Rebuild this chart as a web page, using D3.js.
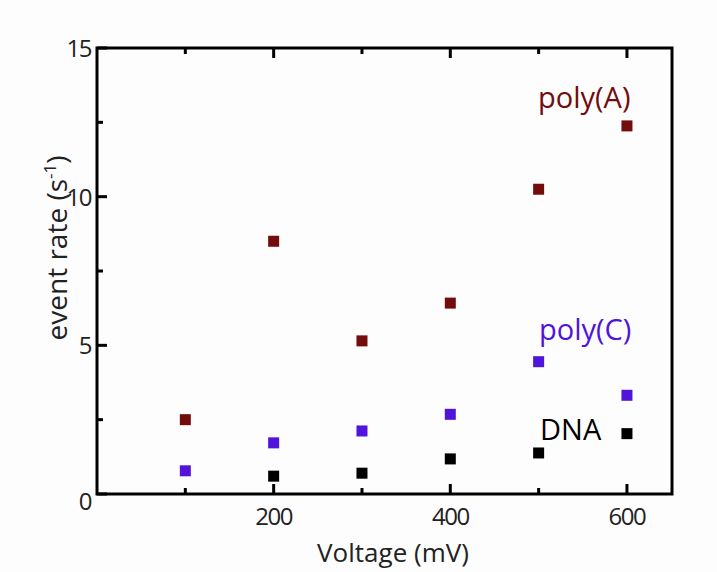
<!DOCTYPE html>
<html>
<head>
<meta charset="utf-8">
<script src="https://cdn.jsdelivr.net/npm/d3@7"></script>
<style>
  html, body { margin: 0; padding: 0; background: #fdfdfd; }
  svg { display: block; font-family: "Open Sans", sans-serif; }
</style>
</head>
<body>
<svg id="chart" width="717" height="572"></svg>
<script>
// Voltages (mV) at which event rates were measured
const voltages = [100, 200, 300, 400, 500, 600];
// Event rates (1/s) per analyte
const polyA = [2.5, 8.5, 5.15, 6.42, 10.25, 12.38];
const polyC = [0.78, 1.72, 2.12, 2.68, 4.45, 3.32];
const dna = [null, 0.6, 0.7, 1.18, 1.38, 2.03];

const seriesNames = ["poly(A)", "poly(C)", "DNA"];
const seriesColors = ["#730c0c", "#5014da", "#000000"];
const seriesValues = [polyA, polyC, dna];

// Axis ticks
const xMajor = [200, 400, 600];
const xMinor = [100, 300, 500];
const yMajor = [0, 5, 10, 15];
const yMinor = [2.5, 7.5, 12.5];

const svg = d3.select("#chart");
const m = { left: 97, top: 48, right: 672, bottom: 494 };

const x = d3.scaleLinear().domain([0, 651]).range([m.left, m.right]);
const y = d3.scaleLinear().domain([0, 15]).range([m.bottom, m.top]);

// Inward-pointing ticks along bottom, top and left
const axes = svg.append("g").attr("stroke", "#000").attr("stroke-width", 3);
axes.selectAll(".xb").data(xMajor.concat(xMinor)).join("line")
  .attr("x1", d => x(d)).attr("x2", d => x(d))
  .attr("y1", m.bottom).attr("y2", d => m.bottom - (xMajor.includes(d) ? 10 : 6));
axes.selectAll(".xt").data(xMajor.concat(xMinor)).join("line")
  .attr("x1", d => x(d)).attr("x2", d => x(d))
  .attr("y1", m.top).attr("y2", d => m.top + (xMajor.includes(d) ? 10 : 6));
axes.selectAll(".yl").data(yMajor.concat(yMinor)).join("line")
  .attr("y1", d => y(d)).attr("y2", d => y(d))
  .attr("x1", m.left).attr("x2", d => m.left + (yMajor.includes(d) ? 10 : 6));

// Frame
svg.append("rect")
  .attr("x", m.left).attr("y", m.top)
  .attr("width", m.right - m.left).attr("height", m.bottom - m.top)
  .attr("fill", "none").attr("stroke", "#000").attr("stroke-width", 3);

// Tick labels
svg.selectAll(".xl").data(xMajor).join("text")
  .attr("x", d => x(d)).attr("y", 525)
  .attr("text-anchor", "middle").attr("font-size", 24).attr("fill", "#222")
  .attr("letter-spacing", -1.5)
  .text(d => d);
svg.selectAll(".ylab").data(yMajor).join("text")
  .attr("x", 91).attr("y", d => d === 0 ? y(d) + 16 : y(d) + 9)
  .attr("text-anchor", "end").attr("font-size", 24).attr("fill", "#222")
  .attr("letter-spacing", -1.5)
  .text(d => d);

// Axis titles
svg.append("text")
  .attr("x", 393).attr("y", 562)
  .attr("text-anchor", "middle").attr("font-size", 26).attr("fill", "#222")
  .text("Voltage (mV)");
const yt = svg.append("text")
  .attr("transform", "translate(67,248) rotate(-90)")
  .attr("text-anchor", "middle").attr("font-size", 28).attr("fill", "#222");
yt.append("tspan").text("event rate (s");
yt.append("tspan").attr("font-size", 17).attr("dy", -11).text("-1");
yt.append("tspan").attr("dy", 11).text(")");

// Square markers
const size = 11;
seriesValues.forEach((vals, i) => {
  const pts = voltages.map((v, j) => ({ v, r: vals[j] })).filter(p => p.r != null);
  svg.append("g").selectAll("rect").data(pts).join("rect")
    .attr("x", p => x(p.v) - size / 2)
    .attr("y", p => y(p.r) - size / 2)
    .attr("width", size).attr("height", size)
    .attr("fill", seriesColors[i]);
});

// Series labels
const labelPos = [[538, 108], [539, 340], [540, 440]];
seriesNames.forEach((name, i) => {
  svg.append("text")
    .attr("x", labelPos[i][0]).attr("y", labelPos[i][1])
    .attr("font-size", 29).attr("fill", seriesColors[i])
    .text(name);
});
</script>
</body>
</html>
